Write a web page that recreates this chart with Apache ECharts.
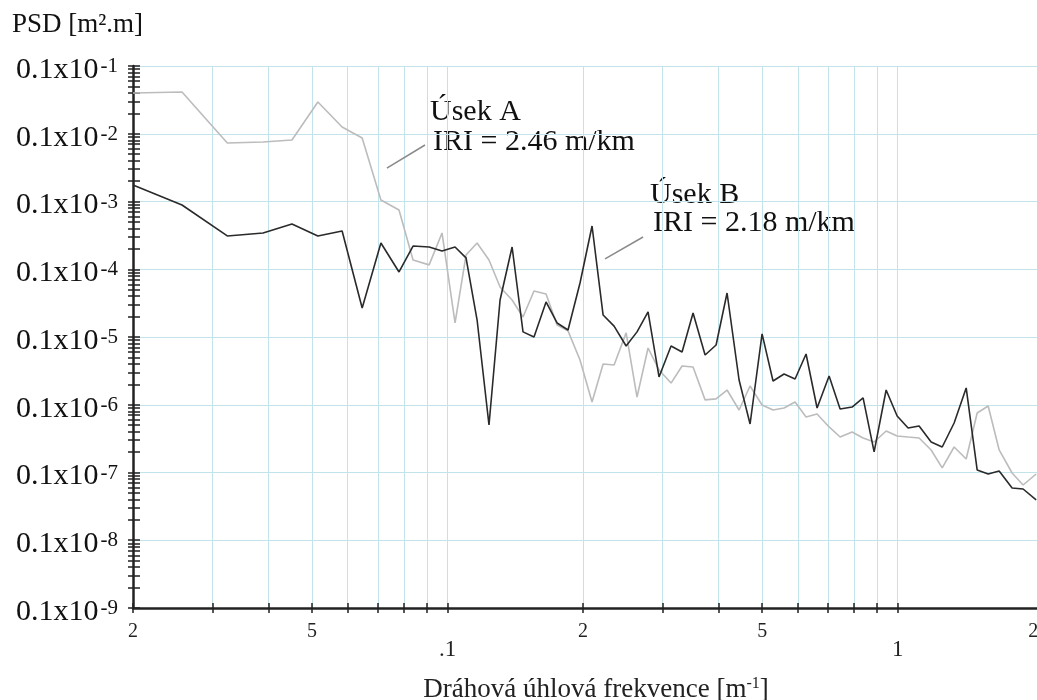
<!DOCTYPE html>
<html>
<head>
<meta charset="utf-8">
<title>PSD</title>
<script src="https://cdn.jsdelivr.net/npm/echarts@6/dist/echarts.min.js"></script>
<style>
  html, body { margin: 0; padding: 0; background: #fff; }
  #chart { width: 1037px; height: 700px; }
</style>
</head>
<body>
<div id="chart"></div>
<script>
// dráhová úhlová frekvence [m^-1]
var freq = [0.02, 0.0257, 0.0324, 0.0389, 0.0451, 0.0515, 0.0583, 0.0646, 0.0711, 0.078,
  0.0838, 0.091, 0.0972, 0.1039, 0.1099, 0.1163, 0.1236, 0.1308, 0.1391, 0.1471,
  0.1556, 0.1655, 0.1751, 0.1852, 0.1969, 0.2094, 0.2216, 0.2344, 0.2493, 0.2636,
  0.2789, 0.295, 0.3137, 0.3319, 0.3511, 0.3734, 0.395, 0.4178, 0.4443, 0.47,
  0.4998, 0.5286, 0.5593, 0.5917, 0.6259, 0.6622, 0.7042, 0.745, 0.7922, 0.838,
  0.8866, 0.9428, 0.9974, 1.055, 1.116, 1.187, 1.256, 1.335, 1.42, 1.502,
  1.589, 1.681, 1.796, 1.9, 2.031];

// Úsek A (svetla ciara)
var psdA = [4.00e-3, 4.13e-3, 7.30e-4, 7.55e-4, 8.08e-4, 2.94e-3, 1.26e-3, 8.66e-4, 1.05e-4, 7.49e-5,
  1.37e-5, 1.16e-5, 3.43e-5, 1.61e-6, 1.62e-5, 2.44e-5, 1.37e-5, 5.47e-6, 3.52e-6, 1.97e-6,
  4.78e-6, 4.31e-6, 1.50e-6, 1.23e-6, 4.58e-7, 1.10e-7, 4.00e-7, 3.86e-7, 1.15e-6, 1.30e-7,
  6.88e-7, 3.26e-7, 2.09e-7, 3.73e-7, 3.61e-7, 1.18e-7, 1.22e-7, 1.65e-7, 8.37e-8, 1.89e-7,
  9.92e-8, 8.37e-8, 8.95e-8, 1.10e-7, 6.60e-8, 7.30e-8, 4.70e-8, 3.34e-8, 3.96e-8, 3.23e-8,
  2.82e-8, 4.10e-8, 3.46e-8, 3.34e-8, 3.23e-8, 2.15e-8, 1.17e-8, 2.38e-8, 1.58e-8, 7.55e-8,
  9.58e-8, 2.15e-8, 9.83e-9, 6.54e-9, 9.50e-9];

// Úsek B (tmava ciara)
var psdB = [1.75e-4, 8.88e-5, 3.10e-5, 3.43e-5, 4.65e-5, 3.10e-5, 3.67e-5, 2.68e-6, 2.44e-5, 9.11e-6,
  2.20e-5, 2.13e-5, 1.86e-5, 2.13e-5, 1.47e-5, 1.78e-6, 5.02e-8, 3.52e-6, 2.13e-5, 1.19e-6,
  1.00e-6, 3.29e-6, 1.61e-6, 1.27e-6, 6.27e-6, 4.35e-5, 2.11e-6, 1.45e-6, 7.36e-7, 1.19e-6,
  2.34e-6, 2.57e-7, 7.36e-7, 6.00e-7, 2.26e-6, 5.42e-7, 7.62e-7, 4.46e-6, 2.32e-7, 5.20e-8,
  1.11e-6, 2.24e-7, 2.84e-7, 2.40e-7, 5.61e-7, 8.95e-8, 2.66e-7, 8.66e-8, 9.26e-8, 1.26e-7,
  2.01e-8, 1.65e-7, 6.82e-8, 4.54e-8, 4.86e-8, 2.82e-8, 2.38e-8, 5.38e-8, 1.77e-7, 1.09e-8,
  9.50e-9, 1.05e-8, 5.90e-9, 5.71e-9, 3.93e-9];

// x: ticky / mriezka a popisky
var xTickValues = [0.02, 0.03, 0.04, 0.05, 0.06, 0.07, 0.08, 0.09,
  0.1, 0.2, 0.3, 0.4, 0.5, 0.6, 0.7, 0.8, 0.9, 1];
var xLabelValues = [0.02, 0.05, 0.1, 0.2, 0.5, 1, 2];
var xLabelTexts = ['2', '5', '.1', '2', '5', '1', '2'];
var xLabelBig = [false, false, true, false, false, true, false];

// y: dekady a medzilahle ticky
var yDecades = [1e-10, 1e-9, 1e-8, 1e-7, 1e-6, 1e-5, 1e-4, 1e-3];
var yMultipliers = [1, 2, 3, 4, 5, 6, 7, 8, 9];

var yTickValues = [];
yDecades.forEach(function (d) {
  yMultipliers.forEach(function (m) { yTickValues.push(m * d); });
});
yTickValues.push(1e-2);

var serif = '"Liberation Serif", "Times New Roman", serif';
var inkColor = '#222';
var gridColor = '#c2e3ea';

(function () {
  var myChart = echarts.init(document.getElementById('chart'));

  var option = {
    animation: false,
    backgroundColor: '#fff',
    grid: {
      left: 133,
      right: 0,
      top: 66,
      bottom: 92,
      containLabel: false,
      outerBoundsMode: 'none'
    },
    xAxis: [
      {
        type: 'log',
        min: 0.02,
        max: 2.04,
        axisLine: { lineStyle: { color: inkColor, width: 2.5 } },
        axisTick: {
          customValues: xTickValues,
          length: 5,
          lineStyle: { color: inkColor, width: 1.5 }
        },
        splitLine: { show: true, lineStyle: { color: gridColor, width: 1 } },
        axisLabel: {
          customValues: xLabelValues,
          margin: 12,
          formatter: function (value) {
            var best = 0;
            for (var i = 1; i < xLabelValues.length; i++) {
              if (Math.abs(Math.log(value / xLabelValues[i])) < Math.abs(Math.log(value / xLabelValues[best]))) best = i;
            }
            return (xLabelBig[best] ? '{b|' : '{s|') + xLabelTexts[best] + '}';
          },
          rich: {
            s: { fontFamily: serif, fontSize: 20, lineHeight: 24, color: inkColor },
            b: { fontFamily: serif, fontSize: 23, lineHeight: 24, color: inkColor, padding: [36, 0, 0, 0] }
          }
        },
        name: 'Dráhová úhlová frekvence [m{sup|-1}]',
        nameLocation: 'middle',
        nameGap: 68,
        nameTextStyle: {
          fontFamily: serif,
          fontSize: 27,
          color: inkColor,
          padding: [0, 0, 0, 22],
          rich: {
            sup: { fontFamily: serif, fontSize: 16, lineHeight: 16, verticalAlign: 'top', color: inkColor }
          }
        }
      },
      {
        // druha os len kvoli tickom smerom dovnutra
        type: 'log',
        min: 0.02,
        max: 2.04,
        position: 'bottom',
        offset: 0,
        axisLine: { show: false },
        axisTick: {
          customValues: xTickValues,
          inside: true,
          length: 5,
          lineStyle: { color: inkColor, width: 1.5 }
        },
        axisLabel: { show: false },
        splitLine: { show: false }
      }
    ],
    yAxis: [
      {
        type: 'log',
        min: 1e-10,
        max: 1e-2,
        interval: 1,
        axisLine: { show: true, lineStyle: { color: inkColor, width: 2.5 } },
        axisTick: { show: false },
        splitLine: { show: true, lineStyle: { color: gridColor, width: 1 } },
        axisLabel: {
          margin: 15,
          formatter: function (value) {
            var e = Math.round(Math.log(value) / Math.LN10);
            return '{b|0.1x10}{s|' + (e + 1) + '}';
          },
          rich: {
            b: { fontFamily: serif, fontSize: 30, lineHeight: 32, color: '#111', padding: [8, 0, 0, 0] },
            s: { fontFamily: serif, fontSize: 21, lineHeight: 20, color: '#111', verticalAlign: 'top', padding: [6, 0, 0, 2] }
          }
        }
      },
      {
        type: 'log',
        min: 1e-10,
        max: 1e-2,
        position: 'left',
        offset: 0,
        axisLine: { show: false },
        axisTick: {
          customValues: yTickValues,
          length: 5,
          lineStyle: { color: inkColor, width: 1.5 }
        },
        axisLabel: { show: false },
        splitLine: { show: false }
      },
      {
        type: 'log',
        min: 1e-10,
        max: 1e-2,
        position: 'left',
        offset: 0,
        axisLine: { show: false },
        axisTick: {
          customValues: yTickValues,
          inside: true,
          length: 7,
          lineStyle: { color: inkColor, width: 1.5 }
        },
        axisLabel: { show: false },
        splitLine: { show: false }
      }
    ],
    series: [
      {
        name: 'Úsek A',
        type: 'line',
        showSymbol: false,
        data: freq.map(function (f, i) { return [f, psdA[i]]; }),
        lineStyle: { color: '#bcbcbc', width: 1.6 },
        z: 2,
        markLine: {
          silent: true,
          symbol: 'none',
          label: { show: false },
          lineStyle: { color: '#8a8a8a', width: 1.5, type: 'solid' },
          data: [
            [{ coord: [0.0733, 3.12e-4] }, { coord: [0.0891, 6.82e-4] }],
            [{ coord: [0.2238, 1.42e-5] }, { coord: [0.2719, 2.99e-5] }]
          ]
        }
      },
      {
        name: 'Úsek B',
        type: 'line',
        showSymbol: false,
        data: freq.map(function (f, i) { return [f, psdB[i]]; }),
        lineStyle: { color: '#2a2a2a', width: 1.6 },
        z: 3
      }
    ],
    graphic: [
      { type: 'text', x: 12, y: 25, style: { text: 'PSD [m².m]', font: '27px ' + serif, fill: '#111', verticalAlign: 'middle' } },
      { type: 'text', x: 430, y: 112, style: { text: 'Úsek A', font: '30px ' + serif, fill: '#111', verticalAlign: 'middle' } },
      { type: 'text', x: 433, y: 142, style: { text: 'IRI = 2.46 m/km', font: '30px ' + serif, fill: '#111', verticalAlign: 'middle' } },
      { type: 'text', x: 650, y: 195, style: { text: 'Úsek B', font: '30px ' + serif, fill: '#111', verticalAlign: 'middle' } },
      { type: 'text', x: 653, y: 223, style: { text: 'IRI = 2.18 m/km', font: '30px ' + serif, fill: '#111', verticalAlign: 'middle' } }
    ]
  };

  myChart.setOption(option);

  window.addEventListener('resize', function () {
    myChart.resize();
  });
})();
</script>
</body>
</html>
